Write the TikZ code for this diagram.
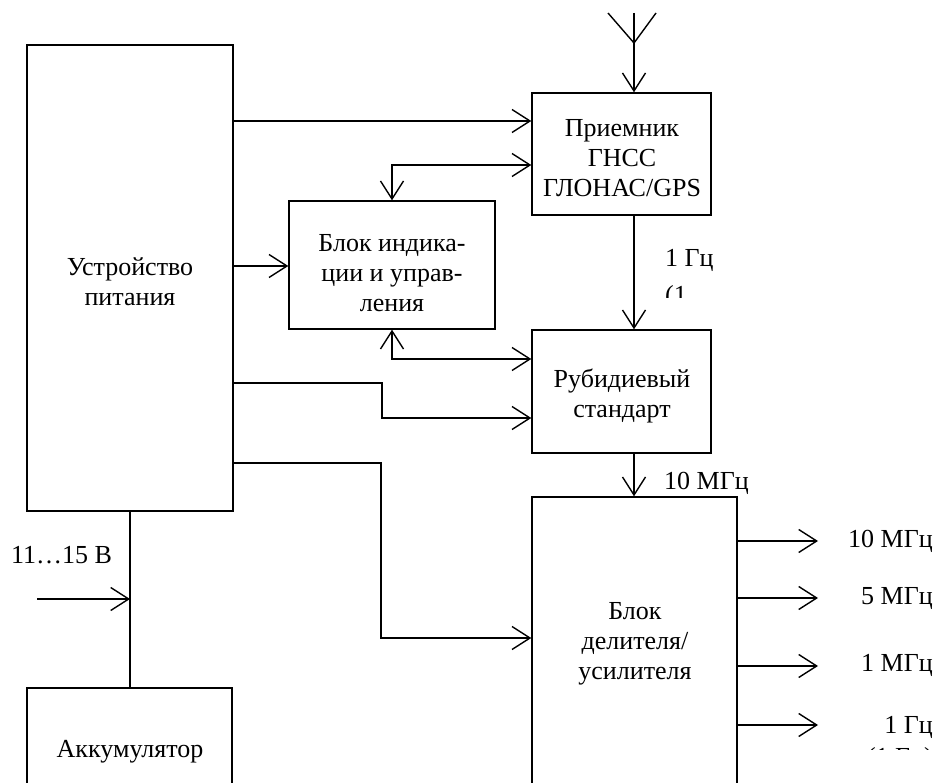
\documentclass[tikz,border=0pt]{standalone}
\usepackage{fontspec}
\setmainfont{Liberation Serif}
\usetikzlibrary{arrows.meta}
\begin{document}
\begin{tikzpicture}[x=1pt,y=-1pt,
  every node/.style={font=\fontsize{26}{30}\selectfont, inner sep=0pt},
  blk/.style={draw, line width=1.4pt, minimum width=#1},
  conn/.style={line width=1.4pt},
  arr/.style={conn, -{Straight Barb[length=18pt,width=23pt]}},
  arrb/.style={conn, {Straight Barb[length=18pt,width=23pt]}-{Straight Barb[length=18pt,width=23pt]}},
  txt/.style={align=center}]
\clip (0,0) rectangle (940,783);
\fill[white] (0,0) rectangle (940,783);
% blocks
\node[blk=206pt, minimum height=466pt] (pit) at (130,278) {};
\node[blk=205pt, minimum height=132pt] (akk) at (129.5,754) {};
\node[blk=179pt, minimum height=122pt] (rx) at (621.5,154) {};
\node[blk=206pt, minimum height=128pt] (ind) at (392,265) {};
\node[blk=179pt, minimum height=123pt] (rb) at (621.5,391.5) {};
\node[blk=205pt, minimum height=323pt] (div) at (634.5,658.5) {};
% block texts
\node[txt] (pitT) at (130,282) {Устройство\\питания};
\node[txt] (rxT) at (622,158) {Приемник\\ГНСС\\ГЛОНАС/GPS};
\node[txt] (indT) at (392,273) {Блок индика-\\ции и управ-\\ления};
\node[txt] (rbT) at (622,396) {Рубидиевый\\стандарт};
\node[txt] (divT) at (635,644) {Блок\\делителя/\\усилителя};
\node[txt] (akkT) at (130,752) {Аккумулятор};
% level coordinates
\coordinate (V) at (634,0);
\coordinate (L1) at (0,121);
\coordinate (L2) at (392,165);
\coordinate (L3) at (0,266);
\coordinate (L4) at (0,359);
\coordinate (L5) at (0,383);
\coordinate (B5) at (382,400);
\coordinate (L6) at (0,418);
\coordinate (L7) at (0,463);
\coordinate (B7) at (381,550);
\coordinate (L8) at (0,638);
% antenna
\coordinate (ant) at (634,13);
\coordinate (antL) at (608,13);
\coordinate (antR) at (656,13);
\coordinate (antJ) at (634,43);
\draw[conn] (antL) -- (antJ) -- (antR);
\draw[arr] (ant) -- (ant |- rx.north);
% connectors
\draw[arr] (pit.east |- L1) -- (rx.west |- L1);
\draw[arrb] (rx.west |- L2) -| (ind.north);
\draw[arr] (pit.east |- L3) -- (ind.west |- L3);
\draw[arrb] (ind.south) |- (rb.west |- L4);
\draw[arr] (pit.east |- L5) -| (B5) |- (rb.west |- L6);
\draw[arr] (pit.east |- L7) -| (B7) |- (div.west |- L8);
\draw[arr] (V |- rx.south) -- (V |- rb.north);
\draw[arr] (V |- rb.south) -- (V |- div.north);
\draw[conn] (pit.south) -- (pit.south |- akk.north);
\coordinate (vin) at (37,599);
\draw[arr] (vin) -- (vin -| pit.south);
% outputs
\coordinate (O1) at (818,541);
\coordinate (O2) at (818,598);
\coordinate (O3) at (818,666);
\coordinate (O4) at (818,725);
\draw[arr] (div.east |- O1) -- (O1);
\draw[arr] (div.east |- O2) -- (O2);
\draw[arr] (div.east |- O3) -- (O3);
\draw[arr] (div.east |- O4) -- (O4);
\node[anchor=east] (o1T) at (933,541) {10 МГц};
\node[anchor=east] (o2T) at (933,598) {5 МГц};
\node[anchor=east] (o3T) at (933,665) {1 МГц};
\node[anchor=east] (o4T) at (933,727) {1 Гц};
% labels
\node[anchor=west] (vinT) at (11,555) {11…15 В};
\node[anchor=west] (f1T) at (665,260) {1 Гц};
\node[anchor=west] (f10T) at (664,483) {10 МГц};
\begin{scope}
\clip (660,270) rectangle (700,298);
\node[anchor=base west] (f1c) at (665,304) {(1};
\end{scope}
\begin{scope}
\clip (850,735) rectangle (940,749);
\node[anchor=base east] (o4c) at (933,765) {(1 Гц)};
\end{scope}
\end{tikzpicture}
\end{document}
